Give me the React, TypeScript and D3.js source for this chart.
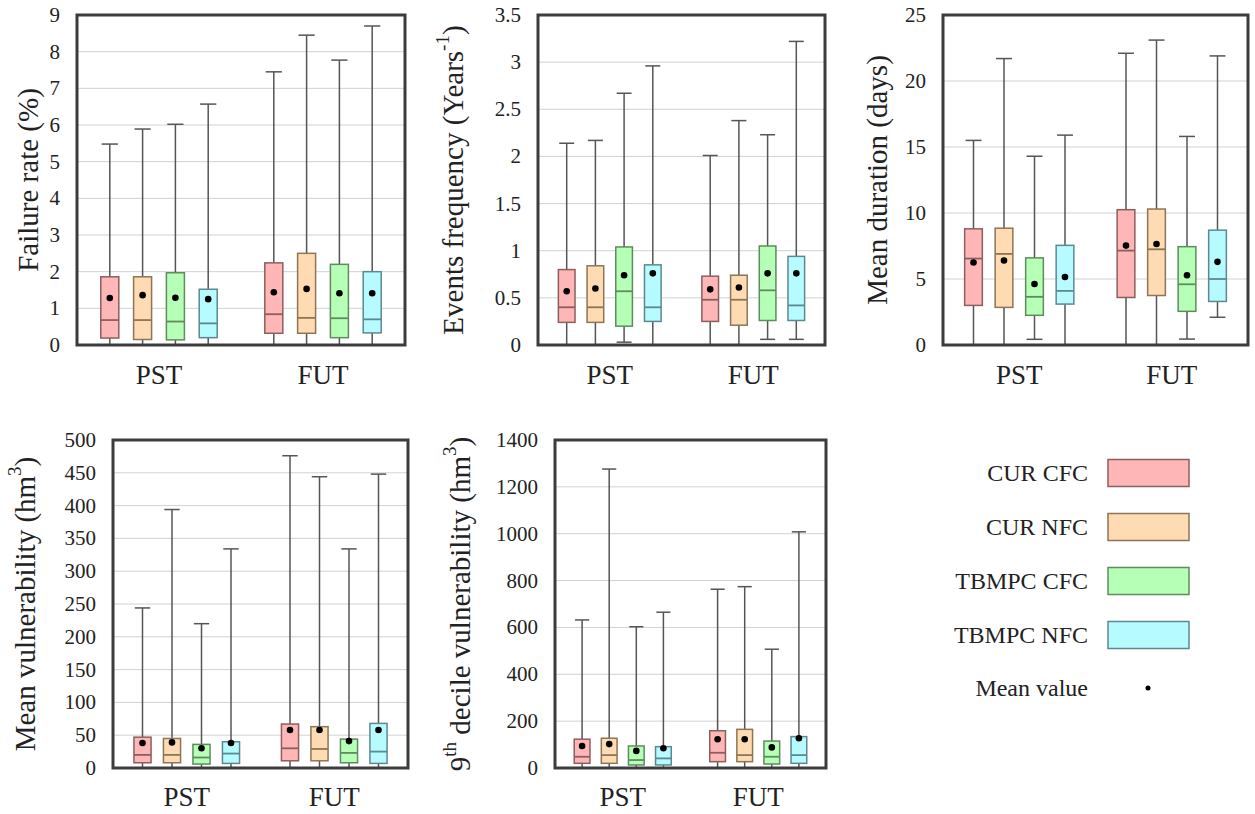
import React from "react";
import * as d3 from "d3";

// ---------- categories / series ----------
const groups = ["PST", "FUT"];
const groupSlots = [2.5, 7.5];
const boxSlots = [1, 2, 3, 4, 6, 7, 8, 9];
const seriesNames = ["CUR CFC", "CUR NFC", "TBMPC CFC", "TBMPC NFC"];
const fillColors = ["#ffb6b6", "#ffdbb4", "#b6ffb6", "#b6fbff"];
const strokeColors = ["#8c5f5f", "#8c7656", "#5e8c5e", "#5e8890"];

// ---------- Failure rate (%) ----------
const frMin = [0, 0, 0, 0, 0, 0, 0, 0];
const frQ1 = [0.19, 0.15, 0.14, 0.2, 0.32, 0.32, 0.2, 0.33];
const frMed = [0.68, 0.68, 0.64, 0.59, 0.84, 0.74, 0.73, 0.7];
const frQ3 = [1.86, 1.86, 1.97, 1.52, 2.24, 2.5, 2.2, 2.0];
const frMax = [5.48, 5.89, 6.02, 6.57, 7.45, 8.45, 7.77, 8.7];
const frMean = [1.28, 1.36, 1.29, 1.25, 1.44, 1.53, 1.41, 1.41];

// ---------- Events frequency ----------
const efMin = [0, 0, 0.03, 0, 0, 0, 0.06, 0.06];
const efQ1 = [0.24, 0.24, 0.2, 0.25, 0.25, 0.21, 0.26, 0.26];
const efMed = [0.4, 0.4, 0.57, 0.4, 0.48, 0.48, 0.58, 0.42];
const efQ3 = [0.8, 0.84, 1.04, 0.85, 0.73, 0.74, 1.05, 0.94];
const efMax = [2.14, 2.17, 2.67, 2.96, 2.01, 2.38, 2.23, 3.22];
const efMean = [0.57, 0.6, 0.74, 0.76, 0.59, 0.61, 0.76, 0.76];

// ---------- Mean duration (days) ----------
const mdMin = [0, 0, 0.43, 0, 0, 0, 0.45, 2.1];
const mdQ1 = [3.0, 2.85, 2.25, 3.1, 3.6, 3.75, 2.55, 3.3];
const mdMed = [6.55, 6.9, 3.65, 4.1, 7.15, 7.25, 4.6, 5.0];
const mdQ3 = [8.8, 8.85, 6.6, 7.55, 10.25, 10.3, 7.45, 8.7];
const mdMax = [15.5, 21.7, 14.3, 15.9, 22.1, 23.1, 15.8, 21.9];
const mdMean = [6.25, 6.4, 4.62, 5.15, 7.53, 7.65, 5.28, 6.3];

// ---------- Mean vulnerability (hm3) ----------
const mvMin = [0, 0, 0, 0, 0, 0, 0, 0];
const mvQ1 = [8, 8, 6, 7, 11, 11, 8, 7];
const mvMed = [20, 20, 16, 22, 30, 29, 23, 25];
const mvQ3 = [47, 45, 36, 40, 67, 63, 44, 68];
const mvMax = [244, 394, 220, 334, 476, 444, 334, 448];
const mvMean = [38, 39, 30, 38, 58, 58, 41, 58];

// ---------- 9th decile vulnerability (hm3) ----------
const dvMin = [0, 0, 0, 0, 0, 0, 0, 0];
const dvQ1 = [20, 20, 13, 13, 27, 27, 17, 20];
const dvMed = [48, 55, 34, 41, 65, 55, 48, 55];
const dvQ3 = [123, 127, 94, 91, 159, 165, 115, 134];
const dvMax = [632, 1276, 603, 665, 763, 774, 507, 1008];
const dvMean = [94, 102, 73, 84, 123, 123, 88, 127];

const FONT = "'Liberation Serif', 'DejaVu Serif', 'Times New Roman', serif";

type PanelProps = {
  left: number;
  right: number;
  top: number;
  bottom: number;
  yMax: number;
  yStep: number;
  labelX: number;
  catY: number;
  label: React.ReactNode;
  mins: number[];
  q1s: number[];
  meds: number[];
  q3s: number[];
  maxs: number[];
  means: number[];
};

function Panel(p: PanelProps) {
  const x = d3.scaleLinear().domain([0, 10]).range([p.left, p.right]);
  const y = d3.scaleLinear().domain([0, p.yMax]).range([p.bottom, p.top]);
  const ticks = d3.range(0, p.yMax + p.yStep / 2, p.yStep).map((v) => +v.toFixed(6));
  const unit = x(1) - x(0);
  const bw = Math.min(18, unit * 0.58);
  const cw = bw * 0.9;
  const cy = (p.top + p.bottom) / 2;
  return (
    <g>
      {ticks.map((t, i) =>
        i > 0 && i < ticks.length - 1 ? (
          <line key={"g" + i} x1={p.left} x2={p.right} y1={y(t)} y2={y(t)} stroke="#d2d2d2" strokeWidth={1} />
        ) : null
      )}
      {ticks.map((t, i) => (
        <text
          key={"t" + i}
          x={p.left - 17}
          y={y(t) + 7}
          textAnchor="end"
          fontSize={21}
          fontFamily={FONT}
          fill="#222"
        >
          {String(t)}
        </text>
      ))}
      {boxSlots.map((s, i) => {
        const cx = x(s);
        const c = i % 4;
        return (
          <g key={"b" + i}>
            <line x1={cx} x2={cx} y1={y(p.mins[i])} y2={y(p.q1s[i])} stroke="#555" strokeWidth={1.5} />
            <line x1={cx} x2={cx} y1={y(p.q3s[i])} y2={y(p.maxs[i])} stroke="#555" strokeWidth={1.5} />
            <line x1={cx - cw / 2} x2={cx + cw / 2} y1={y(p.maxs[i])} y2={y(p.maxs[i])} stroke="#555" strokeWidth={1.5} />
            <line x1={cx - cw / 2} x2={cx + cw / 2} y1={y(p.mins[i])} y2={y(p.mins[i])} stroke="#555" strokeWidth={1.5} />
            <rect
              x={cx - bw / 2}
              y={y(p.q3s[i])}
              width={bw}
              height={y(p.q1s[i]) - y(p.q3s[i])}
              fill={fillColors[c]}
              stroke={strokeColors[c]}
              strokeWidth={1.5}
            />
            <line x1={cx - bw / 2} x2={cx + bw / 2} y1={y(p.meds[i])} y2={y(p.meds[i])} stroke={strokeColors[c]} strokeWidth={1.8} />
            <circle cx={cx} cy={y(p.means[i])} r={3.3} fill="#000" />
          </g>
        );
      })}
      <rect
        x={p.left}
        y={p.top}
        width={p.right - p.left}
        height={p.bottom - p.top}
        fill="none"
        stroke="#3c3c3c"
        strokeWidth={3}
      />
      {groups.map((g, i) => (
        <text key={"c" + i} x={x(groupSlots[i])} y={p.catY} textAnchor="middle" fontSize={27} fontFamily={FONT} fill="#222">
          {g}
        </text>
      ))}
      <text
        transform={`translate(${p.labelX},${cy}) rotate(-90)`}
        textAnchor="middle"
        dominantBaseline="central"
        fontSize={29}
        fontFamily={FONT}
        fill="#222"
      >
        {p.label}
      </text>
    </g>
  );
}

export default function App() {
  const legendRows = [473, 527, 581, 635];
  return (
    <svg
      width={1255}
      height={814}
      style={{ position: "absolute", left: 0, top: 0, background: "#fff" }}
    >
      <rect x={0} y={0} width={1255} height={814} fill="#fff" />
      <Panel
        left={77} right={405} top={15} bottom={345} yMax={9} yStep={1} labelX={28} catY={384}
        label={<tspan>Failure rate (%)</tspan>}
        mins={frMin} q1s={frQ1} meds={frMed} q3s={frQ3} maxs={frMax} means={frMean}
      />
      <Panel
        left={538} right={825} top={15} bottom={345} yMax={3.5} yStep={0.5} labelX={453} catY={384}
        label={
          <>
            <tspan>Events frequency (Years</tspan>
            <tspan dy={-11} fontSize={19}>-1</tspan>
            <tspan dy={11}>)</tspan>
          </>
        }
        mins={efMin} q1s={efQ1} meds={efMed} q3s={efQ3} maxs={efMax} means={efMean}
      />
      <Panel
        left={943} right={1248} top={15} bottom={345} yMax={25} yStep={5} labelX={877} catY={384}
        label={<tspan>Mean duration (days)</tspan>}
        mins={mdMin} q1s={mdQ1} meds={mdMed} q3s={mdQ3} maxs={mdMax} means={mdMean}
      />
      <Panel
        left={113} right={408} top={440} bottom={768} yMax={500} yStep={50} labelX={25} catY={806}
        label={
          <>
            <tspan>Mean vulnerability (hm</tspan>
            <tspan dy={-11} fontSize={19}>3</tspan>
            <tspan dy={11}>)</tspan>
          </>
        }
        mins={mvMin} q1s={mvQ1} meds={mvMed} q3s={mvQ3} maxs={mvMax} means={mvMean}
      />
      <Panel
        left={555} right={826} top={440} bottom={768} yMax={1400} yStep={200} labelX={460} catY={806}
        label={
          <>
            <tspan>9</tspan>
            <tspan dy={-11} fontSize={19}>th</tspan>
            <tspan dy={11}> decile vulnerability (hm</tspan>
            <tspan dy={-11} fontSize={19}>3</tspan>
            <tspan dy={11}>)</tspan>
          </>
        }
        mins={dvMin} q1s={dvQ1} meds={dvMed} q3s={dvQ3} maxs={dvMax} means={dvMean}
      />
      {seriesNames.map((s, i) => (
        <g key={"l" + i}>
          <text x={1088} y={legendRows[i] + 8} textAnchor="end" fontSize={24} fontFamily={FONT} fill="#222">
            {s}
          </text>
          <rect x={1108} y={legendRows[i] - 13.5} width={81} height={27} fill={fillColors[i]} stroke={strokeColors[i]} strokeWidth={1.5} />
        </g>
      ))}
      <text x={1088} y={688 + 8} textAnchor="end" fontSize={24} fontFamily={FONT} fill="#222">
        Mean value
      </text>
      <circle cx={1148} cy={688} r={2.5} fill="#000" />
    </svg>
  );
}
